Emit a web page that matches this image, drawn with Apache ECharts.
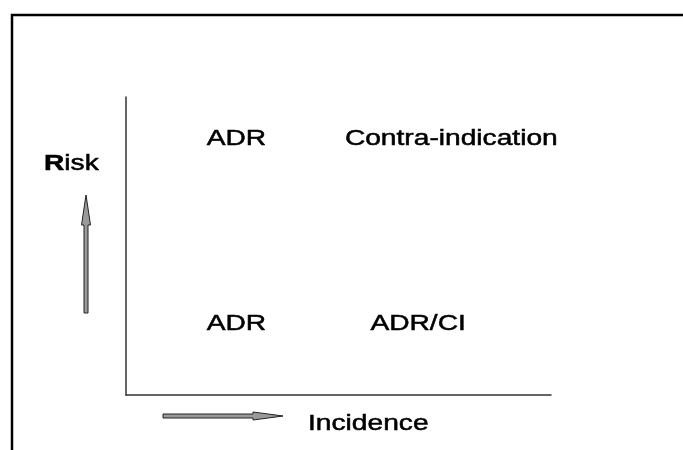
<!DOCTYPE html>
<html>
<head>
<meta charset="utf-8">
<title>Risk / Incidence</title>
<script src="https://cdn.jsdelivr.net/npm/echarts@6/dist/echarts.min.js"></script>
<style>
  html, body { margin: 0; padding: 0; background: #fff; }
  #chartBox { width: 683px; height: 450px; }
</style>
</head>
<body>
<div id="chartBox"></div>
<script>
// the four cells of the diagram, positioned in axis units (0..10 both ways)
const cellLabels = ['ADR', 'Contra-indication', 'ADR', 'ADR/CI']
const cellX = [1.9, 5.15, 1.9, 5.75]
const cellY = [8.6, 8.6, 2.4, 2.4]

const FONT = '22px "Liberation Sans", Arial, Helvetica, sans-serif'
const STRETCH = 1.28 // the original text is drawn wider than it is tall

// shared look of all text: slight stroke to get the heavier weight of the original
const textLook = {
  font: FONT,
  fill: '#000',
  stroke: '#000',
  lineWidth: 0.5,
  align: 'left',
  verticalAlign: 'middle'
}

const chart = echarts.init(document.getElementById('chartBox'))

const cellData = cellLabels.map((name, i) => [cellX[i], cellY[i], name])

chart.setOption({
  animation: false,
  backgroundColor: '#fff',
  grid: { left: 126, top: 97, right: 132, bottom: 55 },
  xAxis: {
    type: 'value',
    min: 0,
    max: 10,
    axisLine: { show: true, lineStyle: { color: '#333', width: 1.5 } },
    axisTick: { show: false },
    axisLabel: { show: false },
    splitLine: { show: false }
  },
  yAxis: {
    type: 'value',
    min: 0,
    max: 10,
    axisLine: { show: true, lineStyle: { color: '#333', width: 1.5 } },
    axisTick: { show: false },
    axisLabel: { show: false },
    splitLine: { show: false }
  },
  series: [
    {
      type: 'custom',
      data: cellData,
      renderItem: function(params, api) {
        const pt = api.coord([api.value(0), api.value(1)])
        return {
          type: 'text',
          x: pt[0],
          y: pt[1],
          scaleX: STRETCH,
          style: Object.assign({ text: cellLabels[params.dataIndex] }, textLook)
        }
      }
    }
  ],
  graphic: [
    // open frame: top and left edges
    {
      type: 'polyline',
      shape: { points: [[12, 452], [12, 15], [685, 15]] },
      style: { stroke: '#000', lineWidth: 2.5, fill: null }
    },
    // up arrow
    {
      type: 'polygon',
      shape: {
        points: [[84, 313], [88, 313], [88, 225], [90.5, 225], [86, 195], [81.5, 225], [84, 225]]
      },
      style: { fill: '#9a9a9a', stroke: '#222', lineWidth: 1 }
    },
    // right arrow
    {
      type: 'polygon',
      shape: {
        points: [[163, 414], [163, 418], [253, 418], [253, 420], [283, 416], [253, 412], [253, 414]]
      },
      style: { fill: '#9a9a9a', stroke: '#222', lineWidth: 1 }
    },
    {
      type: 'text',
      x: 44,
      y: 164,
      scaleX: STRETCH,
      style: Object.assign({
        text: '{b|R}isk',
        rich: {
          b: { font: 'bold ' + FONT, fill: '#000' }
        }
      }, textLook)
    },
    {
      type: 'text',
      x: 308,
      y: 424,
      scaleX: STRETCH,
      style: Object.assign({ text: 'Incidence' }, textLook)
    }
  ]
})

window.addEventListener('resize', () => {
  chart.resize()
})
</script>
</body>
</html>
